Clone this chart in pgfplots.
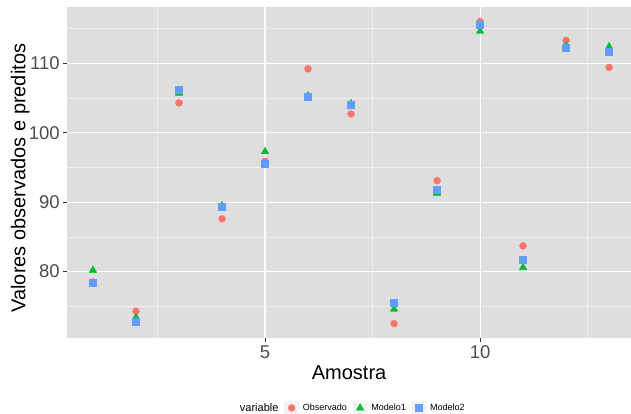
\documentclass[border=0pt]{standalone}
\usepackage{fontspec}
\setmainfont{Liberation Sans}
\usepackage{pgfplots}
\pgfplotsset{compat=1.18}

\definecolor{obs}{HTML}{F8766D}
\definecolor{mod1}{HTML}{00BA38}
\definecolor{mod2}{HTML}{619CFF}
\definecolor{panel}{HTML}{DEDEDE}
\definecolor{gridminor}{HTML}{EEEEEE}
\definecolor{keybg}{HTML}{F2F2F2}
\definecolor{tickc}{HTML}{333333}
\definecolor{ticklab}{HTML}{4D4D4D}

\pgfplotsset{
  keyimg/.style={legend image code/.code={
    \fill[keybg] (0pt,-7pt) rectangle (14pt,7pt);
    \draw[mark repeat=2,mark phase=2,##1] plot coordinates {(0pt,0pt) (7pt,0pt) (14pt,0pt)};
  }},
}

\begin{document}
\begin{tikzpicture}[x=1pt,y=1pt]
\useasboundingbox (0,0) rectangle (631,414);
\begin{axis}[
  at={(67.2pt,75.7pt)}, anchor=south west,
  scale only axis, width=563.8pt, height=331.6pt,
  xmin=0.4, xmax=13.51, ymin=70.4, ymax=118.15,
  xtick={5,10}, ytick={80,90,100,110},
  minor xtick={2.5,7.5,12.5}, minor ytick={75,85,95,105,115},
  grid=both,
  major grid style={white, line width=1.1pt},
  minor grid style={color=gridminor, line width=0.55pt},
  axis background/.style={fill=panel},
  axis line style={draw=none},
  tick align=outside, major tick length=4pt, minor tick length=0pt,
  tick pos=left,
  tick style={color=tickc, line width=0.8pt},
  ticklabel style={font=\fontsize{18.5}{21}\selectfont, text=ticklab},
  /pgf/number format/assume math mode=true,
  xlabel={Amostra}, ylabel={Valores observados e preditos},
  xlabel style={at={(axis description cs:0.5,-0.1045)}, anchor=center, font=\fontsize{20}{23}\selectfont},
  ylabel style={at={(axis description cs:-0.0835,0.483)}, anchor=center, font=\fontsize{20}{23}\selectfont},
  legend style={at={(axis description cs:0.504,-0.21)}, anchor=center, draw=none, fill=none,
    font=\fontsize{9}{10}\selectfont,
    /tikz/every odd column/.append style={column sep=2pt},
    /tikz/every even column/.append style={column sep=4pt}},
  legend columns=-1,
]
\addlegendimage{empty legend}
\addlegendentry{\fontsize{11}{12}\selectfont variable}

\addplot[only marks, mark=*, mark size=3.5pt, draw=obs, fill=obs, keyimg]
  coordinates {(1,78.5) (2,74.3) (3,104.3) (4,87.6) (5,95.9) (6,109.2) (7,102.7)
               (8,72.5) (9,93.1) (10,116.0) (11,83.7) (12,113.3) (13,109.4)};
\addlegendentry{Observado}

\addplot[only marks, mark=triangle*, mark size=4.3pt, draw=mod1, fill=mod1, keyimg]
  coordinates {(1,80.2) (2,73.4) (3,105.7) (4,89.5) (5,97.3) (6,105.3) (7,104.2)
               (8,74.6) (9,91.3) (10,114.6) (11,80.6) (12,112.5) (13,112.4)};
\addlegendentry{Modelo1}

\addplot[only marks, mark=square*, mark size=3.5pt, draw=mod2, fill=mod2, keyimg]
  coordinates {(1,78.4) (2,72.8) (3,106.2) (4,89.4) (5,95.6) (6,105.2) (7,104.1)
               (8,75.5) (9,91.8) (10,115.5) (11,81.7) (12,112.2) (13,111.6)};
\addlegendentry{Modelo2}
\end{axis}
\end{tikzpicture}
\end{document}
